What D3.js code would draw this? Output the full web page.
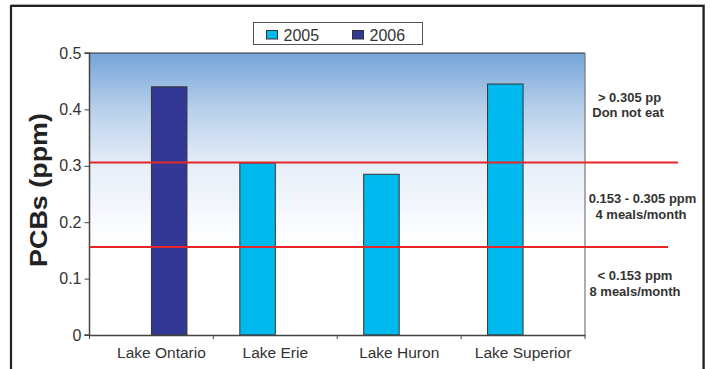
<!DOCTYPE html>
<html>
<head>
<meta charset="utf-8">
<script src="https://cdn.jsdelivr.net/npm/d3@7"></script>
<style>
  body { margin: 0; background: #fff; }
  svg { display: block; font-family: Arial, "Liberation Sans", sans-serif; }
</style>
</head>
<body>
<svg id="chart" width="710" height="369"></svg>
<script>
// data
const lakes = ["Lake Ontario", "Lake Erie", "Lake Huron", "Lake Superior"];
const years = ["2005", "2006"];
const pcb2005 = [null, 0.305, 0.285, 0.445];
const pcb2006 = [0.44, null, null, null];
const yTicks = [0, 0.1, 0.2, 0.3, 0.4, 0.5];
const limits = [0.306, 0.156];
const limitNotes = [
  { y: 0.414, lines: ["> 0.305 pp", "Don not eat"] },
  { y: 0.234, lines: ["0.153 - 0.305 ppm", "4 meals/month"] },
  { y: 0.0975, lines: ["< 0.153 ppm", "8 meals/month"] }
];
const colors = { "2005": "#00b9ef", "2006": "#333895" };

const svg = d3.select("#chart");
const margin = { left: 89.5, top: 53, right: 585, bottom: 335 };

// outer frame
svg.append("path")
  .attr("d", "M11,400 V5 H704.5 V400")
  .attr("fill", "none").attr("stroke", "#aaa").attr("stroke-width", 1)
  .attr("transform", "translate(0,-0.5)");
svg.append("path")
  .attr("d", "M11,400 V6 H703.5 V400")
  .attr("fill", "none").attr("stroke", "#222").attr("stroke-width", 2.2);

const x = d3.scaleBand().domain(lakes).range([margin.left, margin.right]);
const xYear = d3.scaleBand().domain(years).range([x.bandwidth() / 2 - 35.5, x.bandwidth() / 2 + 35.5]);
const y = d3.scaleLinear().domain([0, 0.5]).range([margin.bottom, margin.top]);

// background gradient
const defs = svg.append("defs");
const grad = defs.append("linearGradient").attr("id", "bg")
  .attr("x1", 0).attr("y1", 0).attr("x2", 0).attr("y2", 1);
[["0%", "#74a5d9"], ["20%", "#b8d0eb"], ["40%", "#e6eef8"], ["58%", "#f6f9fd"], ["68%", "#ffffff"], ["100%", "#ffffff"]]
  .forEach(s => grad.append("stop").attr("offset", s[0]).attr("stop-color", s[1]));

svg.append("rect")
  .attr("x", margin.left).attr("y", margin.top)
  .attr("width", margin.right - margin.left).attr("height", margin.bottom - margin.top)
  .attr("fill", "url(#bg)");
svg.append("line")
  .attr("x1", margin.left).attr("x2", margin.right).attr("y1", margin.top).attr("y2", margin.top)
  .attr("stroke", "#333").attr("stroke-width", 1.2);
svg.append("line")
  .attr("x1", margin.right).attr("x2", margin.right).attr("y1", margin.top).attr("y2", margin.bottom)
  .attr("stroke", "#777").attr("stroke-width", 1.2);

// bars
const rows = [];
lakes.forEach((lake, i) => {
  if (pcb2005[i] != null) rows.push({ lake, year: "2005", v: pcb2005[i] });
  if (pcb2006[i] != null) rows.push({ lake, year: "2006", v: pcb2006[i] });
});
svg.append("g").selectAll("rect").data(rows).join("rect")
  .attr("x", d => x(d.lake) + xYear(d.year))
  .attr("y", d => y(d.v))
  .attr("width", xYear.bandwidth())
  .attr("height", d => y(0) - y(d.v))
  .attr("fill", d => colors[d.year])
  .attr("stroke", "#333").attr("stroke-width", 1);

// axes
const yAxis = svg.append("g")
  .attr("transform", `translate(${margin.left},0)`)
  .call(d3.axisLeft(y).tickValues(yTicks).tickFormat(d => d === 0 ? "0" : d3.format(".1f")(d)).tickSize(5).tickPadding(3));
const xAxis = svg.append("g")
  .attr("transform", `translate(0,${margin.bottom})`)
  .call(d3.axisBottom(x).tickSize(0).tickPadding(12));
xAxis.selectAll(".tick").filter((d, i) => i === 0).attr("transform", `translate(${x(lakes[0]) + x.bandwidth() / 2 + 10},0)`);
// category divider ticks
xAxis.append("g").selectAll("line")
  .data(lakes.map(l => x(l)).concat([margin.right]))
  .join("line")
  .attr("x1", d => d).attr("x2", d => d).attr("y1", 0).attr("y2", 4)
  .attr("stroke", "#444");

[yAxis, xAxis].forEach(a => {
  a.select(".domain").attr("stroke", "#444").attr("stroke-width", 1.5);
  a.selectAll(".tick line").attr("stroke", "#444");
  a.selectAll("text").attr("fill", "#333")
    .attr("font-family", "Arial, 'Liberation Sans', sans-serif");
});
yAxis.selectAll("text").attr("font-size", 16);
xAxis.selectAll("text").attr("font-size", 15.5);
yAxis.select(".domain").attr("d", `M-5,${margin.top}H0V${margin.bottom}H-5`);

// limit lines
const lineEnds = [678, 668];
svg.append("g").selectAll("line").data(limits).join("line")
  .attr("x1", margin.left).attr("x2", (d, i) => lineEnds[i])
  .attr("y1", d => y(d)).attr("y2", d => y(d))
  .attr("stroke", "#e8262a").attr("stroke-width", 2);

// annotations
const notes = svg.append("g")
  .attr("font-size", 13).attr("font-weight", "bold").attr("fill", "#333")
  .attr("text-anchor", "middle");
const noteX = [[629.5, 628], [642.5, 641], [635, 635]];
limitNotes.forEach((n, i) => {
  n.lines.forEach((t, j) => {
    notes.append("text")
      .attr("x", noteX[i][j])
      .attr("y", y(n.y) + j * 15.5)
      .text(t);
  });
});

// y title
svg.append("text")
  .attr("transform", `translate(46.5,190) rotate(-90)`)
  .attr("text-anchor", "middle")
  .attr("font-size", 23).attr("font-weight", "bold").attr("fill", "#222")
  .attr("textLength", 154).attr("lengthAdjust", "spacingAndGlyphs")
  .text("PCBs (ppm)");

// legend
const legend = svg.append("g");
legend.append("rect")
  .attr("x", 253.5).attr("y", 22.5).attr("width", 169).attr("height", 22)
  .attr("fill", "#fff").attr("stroke", "#555").attr("stroke-width", 1);
const legendX = [266.5, 352.5];
years.forEach((yr, i) => {
  legend.append("rect")
    .attr("x", legendX[i]).attr("y", 30.5).attr("width", 11).attr("height", 8.5)
    .attr("fill", colors[yr]).attr("stroke", "#333").attr("stroke-width", 1);
  legend.append("text")
    .attr("x", legendX[i] + 17).attr("y", 40.5)
    .attr("font-size", 16).attr("fill", "#333")
    .text(yr);
});
</script>
</body>
</html>
